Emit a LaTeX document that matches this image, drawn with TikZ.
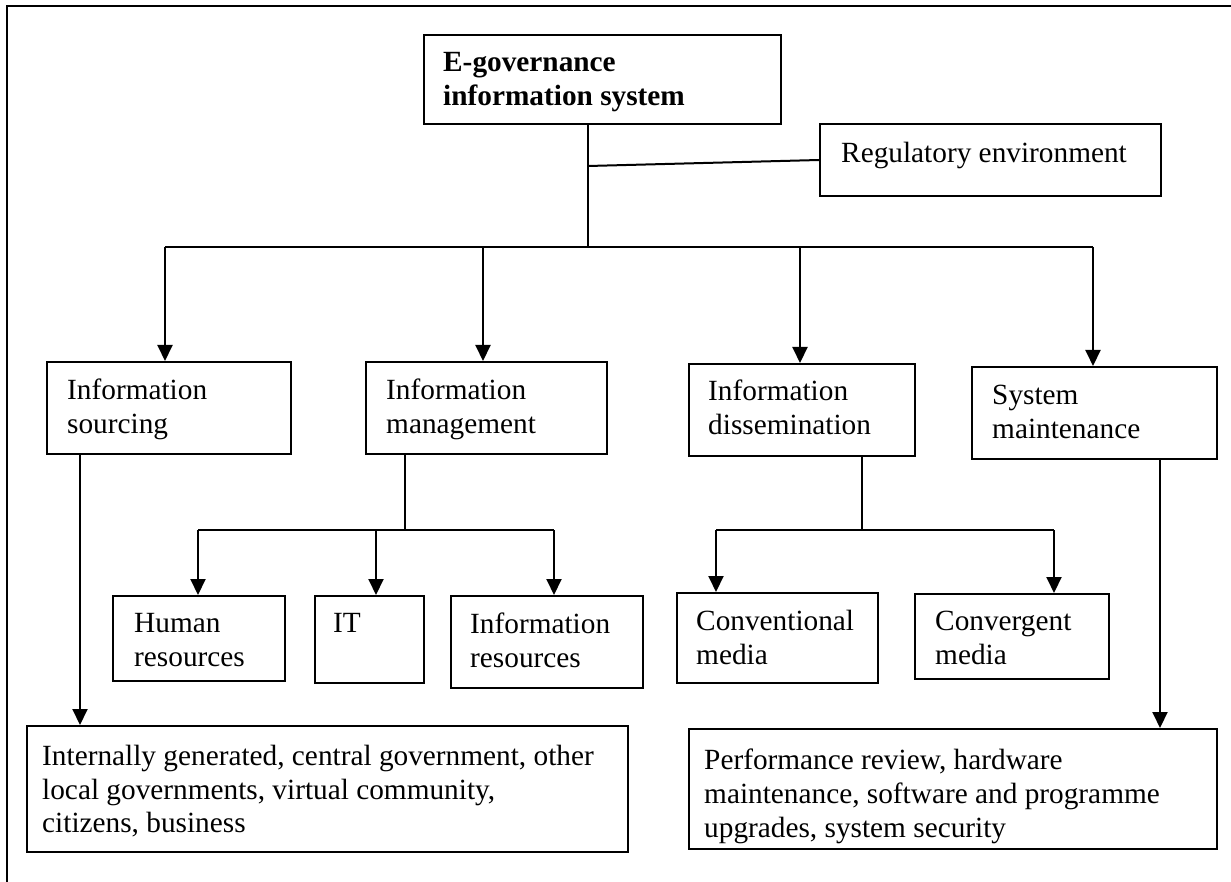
\documentclass[tikz,border=0pt]{standalone}
\usepackage{fontspec}
\setmainfont{Liberation Serif}
\usetikzlibrary{arrows.meta,calc}
\newcommand\diagfont{\fontsize{29.3}{33.7}\selectfont}
\begin{document}
\begin{tikzpicture}[x=1pt,y=-1pt,
  box/.style={draw, line width=2pt, inner sep=0pt, anchor=north west},
  lbl/.style={align=left, inner sep=0pt, anchor=north west, font=\diagfont},
  link/.style={line width=2pt},
  arr/.style={line width=2pt, -{Triangle[length=16pt,width=15pt]}}]
\useasboundingbox (0,0) rectangle (1231,882);

% outer frame (top and left edges)
\draw[line width=2pt] (7,882) -- (7,6) -- (1231,6);

% text sits at the top of each box: first baseline about 38pt below the top edge
% root and regulatory environment
\node[box, minimum width=357pt, minimum height=89pt] (eg) at (423,34) {};
\node[lbl, font=\diagfont\bfseries] (eg-t) at ($(eg.north west)+(20,18)$) {E-governance\\information system};
\node[box, minimum width=341pt, minimum height=72pt] (reg) at (819,123) {};
\node[lbl] (reg-t) at ($(reg.north west)+(22,19)$) {Regulatory environment};

% four main functions
\node[box, minimum width=244pt, minimum height=92pt] (src) at (46,361) {};
\node[lbl] (src-t) at ($(src.north west)+(21,18)$) {Information\\sourcing};
\node[box, minimum width=241pt, minimum height=92pt] (mgt) at (365,361) {};
\node[lbl] (mgt-t) at ($(mgt.north west)+(21,18)$) {Information\\management};
\node[box, minimum width=226pt, minimum height=92pt] (dis) at (688,363) {};
\node[lbl] (dis-t) at ($(dis.north west)+(20,17)$) {Information\\dissemination};
\node[box, minimum width=245pt, minimum height=92pt] (sys) at (971,366) {};
\node[lbl] (sys-t) at ($(sys.north west)+(21,19)$) {System\\maintenance};

% management resources
\node[box, minimum width=172pt, minimum height=85pt] (hum) at (112,595) {};
\node[lbl] (hum-t) at ($(hum.north west)+(22,18)$) {Human\\resources};
\node[box, minimum width=109pt, minimum height=87pt] (it) at (314,595) {};
\node[lbl] (it-t) at ($(it.north west)+(19,18)$) {IT};
\node[box, minimum width=192pt, minimum height=92pt] (inr) at (450,595) {};
\node[lbl] (inr-t) at ($(inr.north west)+(20,18)$) {Information\\resources};

% dissemination media
\node[box, minimum width=201pt, minimum height=90pt] (cvm) at (676,592) {};
\node[lbl] (cvm-t) at ($(cvm.north west)+(20,18)$) {Conventional\\media};
\node[box, minimum width=194pt, minimum height=85pt] (cgm) at (914,593) {};
\node[lbl] (cgm-t) at ($(cgm.north west)+(21,18)$) {Convergent\\media};

% sources and maintenance tasks
\node[box, minimum width=601pt, minimum height=126pt] (srcs) at (26,725) {};
\node[lbl] (srcs-t) at ($(srcs.north west)+(16,20)$) {Internally generated, central government, other\\local governments, virtual community,\\citizens, business};
\node[box, minimum width=528pt, minimum height=120pt] (tasks) at (688,728) {};
\node[lbl] (tasks-t) at ($(tasks.north west)+(16,21)$) {Performance review, hardware\\maintenance, software and programme\\upgrades, system security};

% root to the four functions
\coordinate (r0) at ($(eg.south west)+(165,0)$);
\coordinate (rj) at (588,166);
\coordinate (r1) at (588,247);
\draw[link] (r0) -- (r1);
\draw[link] (rj) -- (reg.west);
\coordinate (b1) at (165,247);
\coordinate (b2) at (483,247);
\coordinate (b3) at (800,247);
\coordinate (b4) at (1093,247);
\draw[link] (b1) -- (b4);
\draw[arr] (b1) -- (b1 |- src.north);
\draw[arr] (b2) -- (b2 |- mgt.north);
\draw[arr] (b3) -- (b3 |- dis.north);
\draw[arr] (b4) -- (b4 |- sys.north);

% management branches
\coordinate (m0) at ($(mgt.south west)+(40,0)$);
\coordinate (m1) at (405,530);
\coordinate (mL) at (198,530);
\coordinate (mC) at (376,530);
\coordinate (mR) at (554,530);
\draw[link] (m0) -- (m1);
\draw[link] (mL) -- (mR);
\draw[arr] (mL) -- (mL |- hum.north);
\draw[arr] (mC) -- (mC |- it.north);
\draw[arr] (mR) -- (mR |- inr.north);

% dissemination branches
\coordinate (d0) at ($(dis.south west)+(174,0)$);
\coordinate (d1) at (862,530);
\coordinate (dL) at (716,530);
\coordinate (dR) at (1054,530);
\draw[link] (d0) -- (d1);
\draw[link] (dL) -- (dR);
\draw[arr] (dL) -- (dL |- cvm.north);
\draw[arr] (dR) -- (dR |- cgm.north);

% long drops to the bottom boxes
\coordinate (s0) at ($(src.south west)+(34,0)$);
\draw[arr] (s0) -- (s0 |- srcs.north);
\coordinate (t0) at ($(sys.south west)+(189,0)$);
\draw[arr] (t0) -- (t0 |- tasks.north);
\end{tikzpicture}
\end{document}
